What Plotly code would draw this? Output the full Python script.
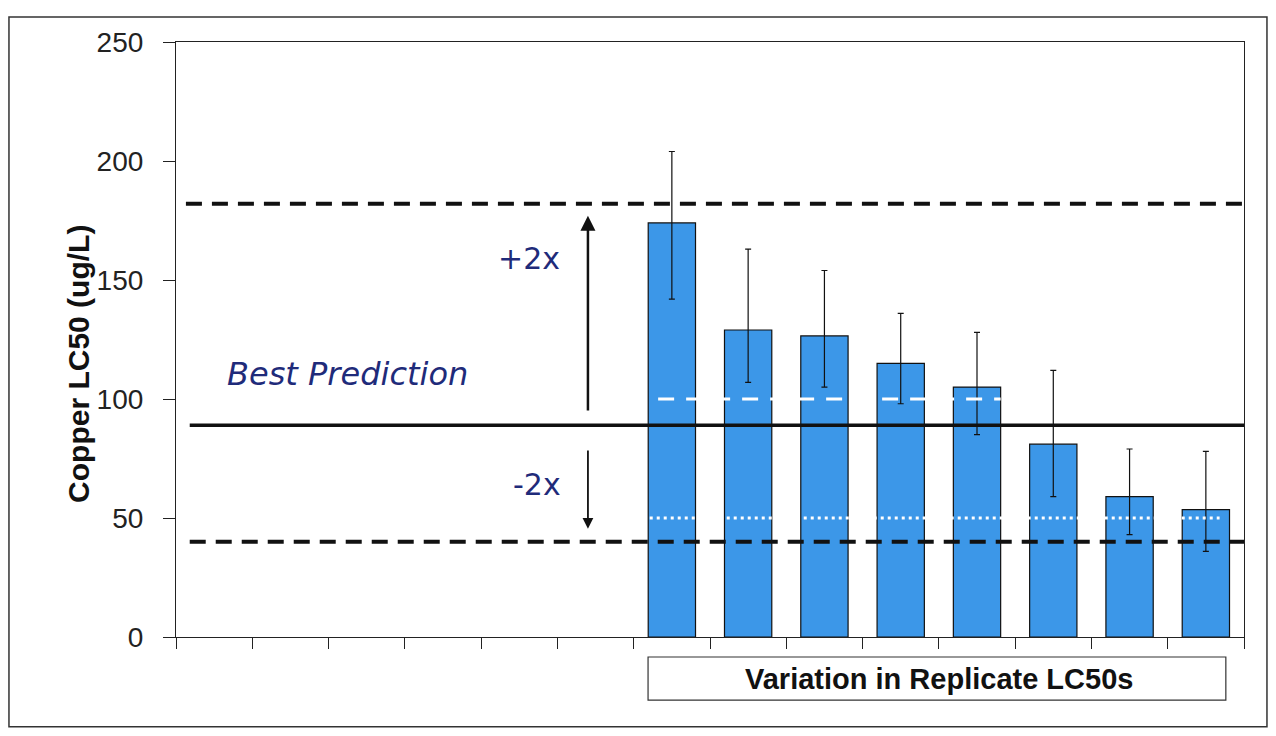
import plotly.graph_objects as go

# ---- data ----
slots = ["s1", "s2", "s3", "s4", "s5", "s6", "r1", "r2", "r3", "r4", "r5", "r6", "r7", "r8"]
bar_cats = ["r1", "r2", "r3", "r4", "r5", "r6", "r7", "r8"]
bar_values = [174, 129, 126.5, 115, 105, 81, 59, 53.5]
err_high = [204, 163, 154, 136, 128, 112, 79, 78]
err_low = [142, 107, 105, 98, 85, 59, 43, 36]
best_prediction = 89
upper_limit = 182
lower_limit = 40
white_dash_level = 100
white_dot_level = 50
y_ticks = [0, 50, 100, 150, 200, 250]

err_plus = [h - v for h, v in zip(err_high, bar_values)]
err_minus = [v - l for l, v in zip(err_low, bar_values)]

NAVY = "#1f2b7a"
BAR = "#3c97e8"
ARIAL = "Liberation Sans, Arial"
WIDE = "DejaVu Sans, Liberation Sans"

fig = go.Figure()
fig.add_trace(go.Bar(
    x=bar_cats, y=bar_values, width=0.62,
    marker=dict(color=BAR, line=dict(color="#111", width=1.2)),
    error_y=dict(type="data", symmetric=False, array=err_plus, arrayminus=err_minus,
                 color="#111", thickness=1.2, width=3),
    showlegend=False, hoverinfo="skip",
))

shapes = []
# reference lines
shapes.append(dict(type="line", xref="x", yref="y", x0=-0.37, x1=13.5, y0=upper_limit, y1=upper_limit,
                   line=dict(color="#111", width=4, dash="16px,10px")))
shapes.append(dict(type="line", xref="x", yref="y", x0=-0.32, x1=13.5, y0=best_prediction, y1=best_prediction,
                   line=dict(color="#111", width=3.5)))
shapes.append(dict(type="line", xref="x", yref="y", x0=-0.32, x1=13.5, y0=lower_limit, y1=lower_limit,
                   line=dict(color="#111", width=4, dash="16px,10px")))
shapes.append(dict(type="line", xref="x", yref="y", x0=5.82, x1=10.31, y0=white_dash_level, y1=white_dash_level,
                   line=dict(color="white", width=3, dash="16px,12px")))
shapes.append(dict(type="line", xref="x", yref="y", x0=5.71, x1=13.18, y0=white_dot_level, y1=white_dot_level,
                   line=dict(color="white", width=3, dash="3px,4px")))
# x-title box
shapes.append(dict(type="rect", xref="paper", yref="paper", x0=0.442, x1=0.983, y0=-0.106, y1=-0.0336,
                   line=dict(color="#333", width=1.2), fillcolor="white", layer="below"))
# outer frame
shapes.append(dict(type="rect", xref="paper", yref="paper", x0=-0.1564, x1=1.0215, y0=-0.151, y1=1.042,
                   line=dict(color="#333", width=1.5)))

annotations = [
    dict(x=4.13, y=159, xref="x", yref="y", text="+2x", showarrow=False,
         xanchor="center", yanchor="middle",
         font=dict(family=WIDE, size=30, color=NAVY)),
    dict(x=4.23, y=64, xref="x", yref="y", text="-2x", showarrow=False,
         xanchor="center", yanchor="middle",
         font=dict(family=WIDE, size=30, color=NAVY)),
    dict(x=1.75, y=110.5, xref="x", yref="y", text="<i>Best Prediction</i>", showarrow=False,
         xanchor="center", yanchor="middle",
         font=dict(family=WIDE, size=32, color=NAVY)),
    # arrows
    dict(x=4.9, y=177, ax=4.9, ay=94.5, xref="x", yref="y", axref="x", ayref="y", text="",
         showarrow=True, arrowhead=2, arrowsize=1.2, arrowwidth=2.5, arrowcolor="#111"),
    dict(x=4.9, y=45.5, ax=4.9, ay=79, xref="x", yref="y", axref="x", ayref="y", text="",
         showarrow=True, arrowhead=2, arrowsize=1.2, arrowwidth=1.8, arrowcolor="#111"),
    # x title (inside box)
    dict(x=0.7144, y=-0.0706, xref="paper", yref="paper", text="<b>Variation in Replicate LC50s</b>",
         showarrow=False, xanchor="center", yanchor="middle",
         font=dict(family=ARIAL, size=29, color="#111")),
    # y title
    dict(x=-0.0908, y=0.459, xref="paper", yref="paper", text="<b>Copper LC50 (ug/L)</b>",
         showarrow=False, xanchor="center", yanchor="middle", textangle=-90,
         font=dict(family=ARIAL, size=30, color="#111")),
]

# figure drawn 1260x720; the page body adds an 8px offset
fig.update_layout(
    width=1260, height=720,
    margin=dict(l=168, r=24, t=34, b=91),
    paper_bgcolor="white", plot_bgcolor="white",
    shapes=shapes, annotations=annotations,
    font=dict(family=ARIAL, color="#222"),
    xaxis=dict(type="category", categoryorder="array", categoryarray=slots, range=[-0.5, 13.5],
               showticklabels=False, tickson="boundaries", ticks="outside", ticklen=11,
               tickcolor="#222", showline=True, linecolor="#222", linewidth=1.2,
               mirror=True, showgrid=False, zeroline=False),
    yaxis=dict(range=[0, 250], tickvals=y_ticks, ticks="outside", ticklen=12, tickcolor="#222",
               tickfont=dict(size=28, color="#222"), ticklabelstandoff=14,
               showline=True, linecolor="#222", linewidth=1.2, mirror=True,
               showgrid=False, zeroline=False),
)

fig.write_html("out.html")
